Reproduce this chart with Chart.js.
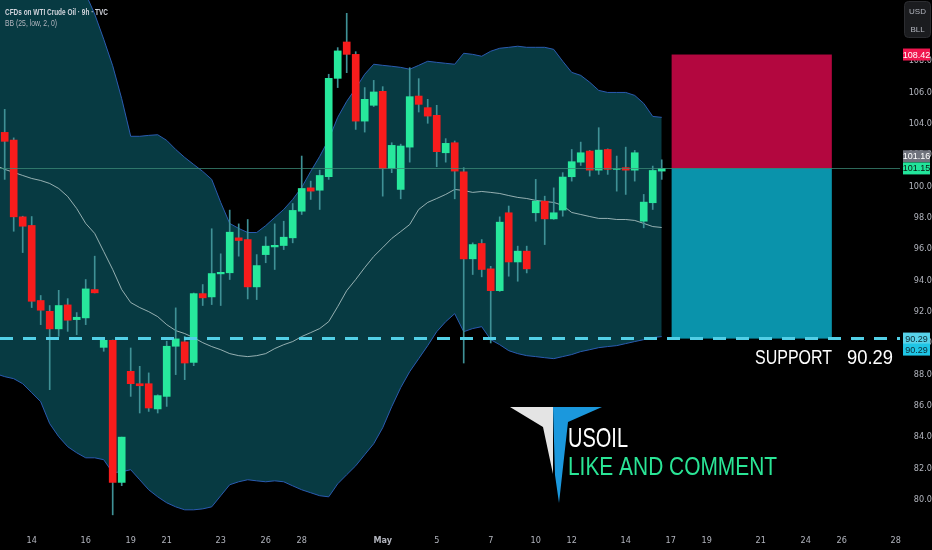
<!DOCTYPE html>
<html><head><meta charset="utf-8">
<script src="https://cdn.jsdelivr.net/npm/chart.js@4.4.0/dist/chart.umd.min.js"></script>
<style>html,body{margin:0;padding:0;background:#000;overflow:hidden}canvas{display:block}</style>
</head><body><canvas id="c" width="932" height="550"></canvas>
<script>
// ---- candle data (9h candles, index 0 = first visible) ----
const openP  = [103.45,102.96,98.06,97.51,92.72,92.03,90.91,92.44,91.50,91.61,93.42,89.73,90.18,81.11,88.20,87.41,87.41,85.80,86.60,89.80,90.08,88.77,93.16,92.95,94.42,94.49,96.72,96.61,93.59,95.65,96.14,96.23,96.72,98.42,99.91,99.76,100.62,106.90,109.22,108.43,104.17,105.18,106.07,101.15,99.81,102.51,105.77,105.03,104.54,102.15,102.79,100.94,95.38,96.36,94.74,93.35,98.32,95.18,95.87,98.32,99.06,97.93,98.49,100.62,101.55,102.26,101.04,102.36,101.09,101.20,101.04,97.78,98.96,100.98];
const highP  = [104.92,103.10,98.10,98.08,93.04,92.40,93.37,92.84,91.95,94.06,95.55,90.20,90.20,84.00,89.69,88.52,88.10,86.70,90.12,92.25,90.43,93.20,93.74,97.30,95.70,98.49,97.61,97.89,95.65,96.79,97.61,97.78,98.91,101.94,100.34,101.04,107.16,108.86,111.05,108.60,106.31,106.77,106.37,102.79,102.70,107.58,106.88,105.56,105.18,103.05,102.90,101.20,96.40,96.61,94.90,98.06,98.75,96.19,96.19,100.45,99.38,99.91,100.88,102.36,102.83,102.30,103.75,102.40,101.94,102.51,102.30,99.49,101.30,101.70];
const lowP   = [100.45,97.14,95.78,92.27,91.18,87.03,90.43,90.75,90.54,91.18,93.20,89.48,79.04,80.90,86.60,85.54,85.64,85.54,85.96,87.99,87.67,88.56,92.40,92.46,92.40,94.06,95.55,92.82,92.78,95.13,94.70,95.97,96.40,98.21,99.17,98.53,100.45,106.31,107.26,103.64,103.47,105.10,99.38,100.88,99.21,101.55,104.75,104.03,101.26,101.55,99.21,88.73,94.38,94.23,90.01,93.30,94.27,93.95,94.48,97.78,96.29,97.90,98.10,100.34,101.34,100.66,100.77,100.77,99.70,99.49,100.34,97.36,98.53,100.45];
const closeP = [102.88,98.06,97.46,92.67,92.10,90.91,92.40,91.46,91.65,93.46,93.21,90.18,81.11,84.00,87.41,87.28,85.86,86.65,89.80,90.27,88.73,93.16,92.89,94.44,94.52,97.08,96.55,93.59,94.95,96.19,96.24,96.76,98.47,99.87,99.70,100.70,106.90,108.65,108.43,104.17,105.56,106.03,101.13,102.62,102.58,105.73,105.24,104.49,102.22,102.75,100.98,95.38,96.29,94.70,93.35,97.72,95.18,95.87,94.74,99.06,97.93,98.32,100.60,101.58,102.15,101.04,102.32,101.09,101.13,101.04,102.15,99.00,101.02,101.15];

// ---- Bollinger Bands (25, low, 2); first value = index -1 ----
const bandStartIdx = -1;
const upperBand  = [114.4,114.5,114.6,114.7,114.8,114.8,114.7,114.6,114.3,113.6,112.3,111.0,109.4,107.7,105.6,103.2,103.2,103.26,103.3,102.94,102.36,101.85,101.4,100.96,100.45,98.98,97.64,97.32,97.06,97.06,97.5,98.02,98.53,99.17,99.94,100.96,101.92,103.0,104.41,105.43,106.26,107.16,107.8,107.73,107.67,107.6,107.48,107.73,107.99,107.92,107.86,107.8,108.5,108.43,108.31,108.63,108.82,108.88,108.95,108.88,108.88,108.88,108.75,107.99,107.28,107.09,106.65,106.13,106.0,106.0,106.0,105.81,105.3,104.47,104.41];
const middleBand = [101.34,101.09,100.9,100.7,100.51,100.38,100.19,99.87,99.36,98.59,97.64,97.0,95.85,94.7,93.42,92.59,92.27,92.01,91.69,91.18,90.8,90.61,90.35,90.03,89.78,89.58,89.33,89.2,89.14,89.2,89.33,89.65,89.9,90.1,90.42,90.67,90.93,91.37,92.33,93.35,94.06,94.82,95.53,96.1,96.68,97.12,97.57,98.53,98.98,99.23,99.49,99.81,99.74,99.62,99.68,99.62,99.55,99.42,99.3,99.23,99.11,99.04,98.98,98.79,98.34,98.21,98.08,97.96,97.96,97.89,97.89,97.83,97.64,97.44,97.38];
const lowerBand  = [88.05,87.86,87.73,87.41,86.84,86.26,84.86,84.03,83.39,83.0,82.68,82.68,82.56,81.73,81.79,81.92,81.28,80.64,80.19,79.81,79.55,79.36,79.36,79.42,79.55,80.26,80.96,81.15,81.28,81.21,81.15,81.21,81.15,80.89,80.64,80.45,80.26,80.19,81.02,81.6,82.17,82.88,83.58,84.6,85.94,87.16,88.18,89.01,89.84,90.73,91.37,91.88,90.73,90.93,91.05,90.22,89.9,89.52,89.33,89.2,89.14,89.07,89.01,89.14,89.27,89.46,89.58,89.71,89.78,89.84,89.97,90.1,90.22,90.35,90.42];

// ---- axis ticks ----
const xTickIdx    = [3,9,14,18,24,29,33,42,48,54,59,63,69,74,78,84,89,93,99];
const xTickLabels = ['14','16','19','21','23','26','28','May','5','7','10','12','14','17','19','21','24','26','28'];
const yTickValues = [80,82,84,86,88,90,92,94,96,98,100,102,104,106,108];

// ---- short position tool / levels ----
const stopPrice = 108.42, entryPrice = 101.16, lastPrice = 101.15, targetPrice = 90.29;
const boxStartIdx = 74.1, boxEndIdx = 91.9;

const N = openP.length;
const idx = [...Array(N).keys()];
const upColor = '#27e89c', downColor = '#f81c1c', wickColor = '#3f9196';
const bodies = idx.map(i => ({x: i, y: [Math.min(openP[i], closeP[i]), Math.max(openP[i], closeP[i])]}));
const wicks = idx.map(i => ({x: i, y: [lowP[i], highP[i]]}));
const bodyColors = idx.map(i => closeP[i] >= openP[i] ? upColor : downColor);
const toPts = arr => arr.map((v, k) => ({x: k + bandStartIdx, y: v}));

const NARROW = "'Liberation Sans Narrow','DejaVu Sans Condensed','Liberation Sans',sans-serif";

function fitText(ctx, text, x, y, w, font, color) {
  ctx.save();
  ctx.font = font;
  const m = ctx.measureText(text).width;
  ctx.translate(x, y);
  ctx.scale(w / m, 1);
  ctx.fillStyle = color;
  ctx.textBaseline = 'alphabetic';
  ctx.textAlign = 'left';
  ctx.fillText(text, 0, 0);
  ctx.restore();
}

const decor = {
  id: 'decor',
  beforeDraw(c) {
    const ctx = c.ctx;
    ctx.save(); ctx.fillStyle = '#000'; ctx.fillRect(0, 0, c.width, c.height); ctx.restore();
  },
  beforeDatasetsDraw(c) {
    const ctx = c.ctx, xs = c.scales.x, ys = c.scales.y;
    const x0 = xs.getPixelForValue(boxStartIdx), x1 = xs.getPixelForValue(boxEndIdx);
    const yS = ys.getPixelForValue(stopPrice), yE = ys.getPixelForValue(entryPrice), yT = ys.getPixelForValue(targetPrice);
    ctx.save();
    ctx.fillStyle = '#b3073f'; ctx.fillRect(x0, yS, x1 - x0, yE - yS);
    ctx.fillStyle = '#0a93ab'; ctx.fillRect(x0, yE, x1 - x0, yT - yE);
    ctx.restore();
  },
  afterDatasetsDraw(c) {
    const ctx = c.ctx, ys = c.scales.y;
    const yE = Math.round(ys.getPixelForValue(entryPrice)) + 0.5;
    const yT = ys.getPixelForValue(targetPrice);
    ctx.save();
    ctx.strokeStyle = 'rgba(60,140,120,0.75)'; ctx.lineWidth = 1;
    ctx.beginPath(); ctx.moveTo(0, yE); ctx.lineTo(900, yE); ctx.stroke();
    ctx.strokeStyle = '#52cfe6'; ctx.lineWidth = 3; ctx.setLineDash([13, 10]);
    ctx.beginPath(); ctx.moveTo(0, yT); ctx.lineTo(900, yT); ctx.stroke();
    ctx.restore();
  },
  afterDraw(c) {
    const ctx = c.ctx, ys = c.scales.y;
    // header
    fitText(ctx, 'CFDs on WTI Crude Oil · 9h · TVC', 5, 15, 103, "bold 9px 'Liberation Sans',sans-serif", '#d1d4dc');
    fitText(ctx, 'BB (25, low, 2, 0)', 5, 26, 52, "9px 'Liberation Sans',sans-serif", '#b2b5be');
    // support label
    const yT = ys.getPixelForValue(targetPrice);
    fitText(ctx, 'SUPPORT', 755, yT + 25, 77, "20px 'Liberation Sans',sans-serif", '#ffffff');
    fitText(ctx, '90.29', 847, yT + 25, 46, "20px 'Liberation Sans',sans-serif", '#ffffff');
    // logo
    ctx.save();
    ctx.fillStyle = '#e4e4e4';
    ctx.beginPath(); ctx.moveTo(510, 407); ctx.lineTo(553, 407); ctx.lineTo(553, 474); ctx.lineTo(543, 427); ctx.closePath(); ctx.fill();
    ctx.fillStyle = '#1b98dd';
    ctx.beginPath(); ctx.moveTo(553, 407); ctx.lineTo(602, 407); ctx.lineTo(568, 422); ctx.lineTo(559, 503); ctx.lineTo(555, 475); ctx.closePath(); ctx.fill();
    ctx.restore();
    fitText(ctx, 'USOIL', 568, 447, 60, "28px 'Liberation Sans',sans-serif", '#ffffff');
    fitText(ctx, 'LIKE AND COMMENT', 568, 475, 209, "26px 'Liberation Sans',sans-serif", '#2ae596');
    // currency box
    ctx.save();
    ctx.fillStyle = '#1b1c1f'; ctx.strokeStyle = '#2c2d31'; ctx.lineWidth = 1;
    ctx.beginPath(); ctx.roundRect(904.5, 1.5, 26, 36, 4); ctx.fill(); ctx.stroke();
    ctx.fillStyle = '#b2b5be'; ctx.font = "8px 'Liberation Sans',sans-serif"; ctx.textAlign = 'center'; ctx.textBaseline = 'middle';
    ctx.fillText('USD', 917.5, 12); ctx.fillText('BLL', 917.5, 29.5);
    ctx.restore();
    // price tags
    const tag = (yc, text, bg, fg) => {
      ctx.save();
      ctx.fillStyle = bg; ctx.fillRect(903, yc - 6, 27, 12);
      ctx.fillStyle = fg; ctx.font = "9px 'Liberation Sans',sans-serif"; ctx.textAlign = 'center'; ctx.textBaseline = 'middle';
      ctx.fillText(text, 916.5, yc + 0.5);
      ctx.restore();
    };
    tag(ys.getPixelForValue(stopPrice), stopPrice.toFixed(2), '#f0164f', '#ffffff');
    tag(ys.getPixelForValue(entryPrice) - 12, entryPrice.toFixed(2), '#6f727c', '#ffffff');
    tag(ys.getPixelForValue(lastPrice), lastPrice.toFixed(2), '#22e59b', '#0b1a14');
    tag(ys.getPixelForValue(targetPrice), targetPrice.toFixed(2), '#58d3ea', '#0c2a33');
    tag(ys.getPixelForValue(targetPrice) + 11, targetPrice.toFixed(2), '#1fc6e6', '#0c2a33');
  }
};

new Chart(document.getElementById('c'), {
  type: 'bar',
  data: {
    datasets: [
      {type: 'line', label: 'Upper', data: toPts(upperBand), borderColor: '#2a5bb0', borderWidth: 1, pointRadius: 0, fill: false, tension: 0, order: 10},
      {type: 'line', label: 'Lower', data: toPts(lowerBand), borderColor: '#2a5bb0', borderWidth: 1, pointRadius: 0, fill: '-1', backgroundColor: '#073a42', tension: 0, order: 9},
      {type: 'line', label: 'Basis', data: toPts(middleBand), borderColor: 'rgba(185,205,205,0.8)', borderWidth: 1, pointRadius: 0, fill: false, tension: 0, order: 8},
      {type: 'bar', label: 'Wick', data: wicks, backgroundColor: wickColor, barThickness: 1, grouped: false, borderWidth: 0, order: 2},
      {type: 'bar', label: 'Body', data: bodies, backgroundColor: bodyColors, barThickness: 7, grouped: false, borderWidth: 0, order: 1}
    ]
  },
  options: {
    responsive: false, animation: false, devicePixelRatio: 1,
    layout: {padding: 0},
    plugins: {legend: {display: false}, tooltip: {enabled: false}, filler: {drawTime: 'beforeDatasetsDraw'}},
    scales: {
      x: {
        type: 'linear', min: -0.522, max: 103.03, offset: false,
        grid: {display: false, drawTicks: false}, border: {display: false},
        afterBuildTicks: s => { s.ticks = xTickIdx.map(v => ({value: v})); },
        afterFit: s => { s.height = 22; s.paddingLeft = 0; s.paddingRight = 0; s.paddingTop = 0; s.paddingBottom = 0; },
        ticks: {
          autoSkip: false, maxRotation: 0, padding: 7, color: '#b2b5be',
          font: ctx => ({family: NARROW, size: 9, weight: xTickLabels[ctx.index] === 'May' ? 'bold' : 'normal'}),
          callback: (v, i) => xTickLabels[i]
        }
      },
      y: {
        type: 'linear', position: 'right', min: 78.2, max: 111.9,
        grid: {display: false, drawTicks: false}, border: {display: false},
        afterBuildTicks: s => { s.ticks = yTickValues.map(v => ({value: v})); },
        afterFit: s => { s.width = 0; s.paddingTop = 0; s.paddingBottom = 0; s.paddingLeft = 0; s.paddingRight = 0; },
        ticks: {mirror: true, padding: 5, color: '#b2b5be', font: {family: NARROW, size: 9}, callback: v => Number(v).toFixed(2)}
      }
    }
  },
  plugins: [decor]
});
</script>
</body></html>
